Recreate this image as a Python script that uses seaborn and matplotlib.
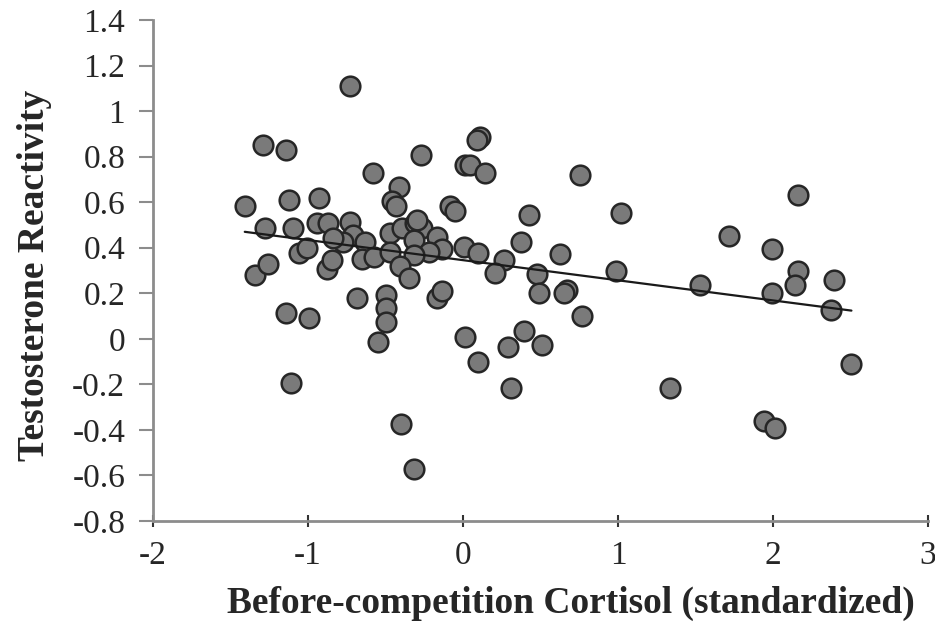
import matplotlib
matplotlib.use("Agg")
import matplotlib.pyplot as plt
import seaborn as sns
import pandas as pd

cortisol = [-0.729, -1.289, -1.143, -0.270, -0.582, -0.416, -0.459, -0.431, -1.408, -1.123,
            -0.927, -0.082, -0.050, -1.279, -1.095, -0.944, -0.869, -0.729, -0.707, -0.772,
            -0.836, -0.632, -0.653, -0.574, -0.470, -0.395, -0.309, -0.265, -0.319, -0.168,
            -0.136, -0.222, -0.319, -0.470, -0.405, -0.351, 0.004, -1.057, -1.009, -0.880,
            -0.847, -1.343, -1.257, -0.681, -0.496, -0.496, -0.496, -0.550, -0.168, -0.136,
            -1.143, -0.994, -1.110, -0.401, -0.319, 0.015, 0.095, 0.291, 0.393, 0.310,
            0.511, 0.108, 0.091, 0.015, 0.047, 0.144, 0.755, 0.425, 1.018, 0.375,
            0.623, 0.097, 0.263, 0.209, 0.479, 0.490, 0.673, 0.651, 0.985, 1.530,
            0.770, 2.160, 1.714, 1.992, 1.992, 2.160, 2.139, 2.391, 2.372, 2.506,
            1.334, 1.945, 2.014, -0.300]
testosterone = [1.111, 0.852, 0.830, 0.808, 0.730, 0.666, 0.607, 0.584, 0.585, 0.610,
                0.620, 0.585, 0.563, 0.486, 0.486, 0.508, 0.508, 0.511, 0.457, 0.427,
                0.442, 0.427, 0.350, 0.361, 0.464, 0.486, 0.508, 0.486, 0.435, 0.449,
                0.394, 0.383, 0.369, 0.383, 0.318, 0.267, 0.405, 0.376, 0.398, 0.306,
                0.347, 0.281, 0.329, 0.181, 0.193, 0.135, 0.076, -0.012, 0.179, 0.208,
                0.113, 0.091, -0.192, -0.373, -0.572, 0.010, -0.102, -0.037, 0.035, -0.214,
                -0.026, 0.886, 0.874, 0.764, 0.764, 0.730, 0.720, 0.542, 0.552, 0.427,
                0.373, 0.376, 0.347, 0.291, 0.284, 0.203, 0.215, 0.200, 0.296, 0.237,
                0.102, 0.632, 0.452, 0.395, 0.203, 0.296, 0.237, 0.259, 0.127, -0.111,
                -0.214, -0.359, -0.392, 0.520]

x_ticks = [-2, -1, 0, 1, 2, 3]
y_ticks = [-0.8, -0.6, -0.4, -0.2, 0, 0.2, 0.4, 0.6, 0.8, 1, 1.2, 1.4]
y_tick_labels = ["-0.8", "-0.6", "-0.4", "-0.2", "0", "0.2", "0.4", "0.6", "0.8", "1", "1.2", "1.4"]

df = pd.DataFrame({"cortisol": cortisol, "testosterone": testosterone})

sns.set_theme(style="white")
plt.rcParams["font.family"] = ["Liberation Serif", "DejaVu Serif"]

fig = plt.figure(figsize=(9.35, 6.29), dpi=100)
ax = fig.add_axes([153 / 935, 1 - 521 / 629, (928 - 153) / 935, (521 - 20) / 629])

sns.regplot(data=df, x="cortisol", y="testosterone", ci=None, ax=ax,
            scatter_kws=dict(s=200, color="#7a7a7a", edgecolors="#262626", linewidths=1.8, alpha=1, zorder=3),
            line_kws=dict(color="#1a1a1a", linewidth=1.6, zorder=4))

ax.set_xlim(-2, 3)
ax.set_ylim(-0.8, 1.4)
ax.set_xticks(x_ticks)
ax.set_xticklabels([str(t) for t in x_ticks])
ax.set_yticks(y_ticks)
ax.set_yticklabels(y_tick_labels)

for s in ["top", "right"]:
    ax.spines[s].set_visible(False)
for s in ["left", "bottom"]:
    ax.spines[s].set_color("#8c8c8c")
    ax.spines[s].set_linewidth(2)

ax.tick_params(axis="y", direction="out", length=10, width=1.5, color="#8c8c8c",
               labelsize=24, pad=10, left=True)
ax.tick_params(axis="x", direction="inout", length=8, width=1.5, color="#333333",
               labelsize=24, pad=10, bottom=True)

ax.set_xlabel("Before-competition Cortisol (standardized)", fontsize=27, fontweight="bold")
ax.set_ylabel("Testosterone Reactivity", fontsize=27, fontweight="bold")
ax.xaxis.set_label_coords(0.539, -0.13)
ax.yaxis.set_label_coords(-0.13, 0.491)
ax.grid(False)

fig.savefig("out.png", dpi=100)
